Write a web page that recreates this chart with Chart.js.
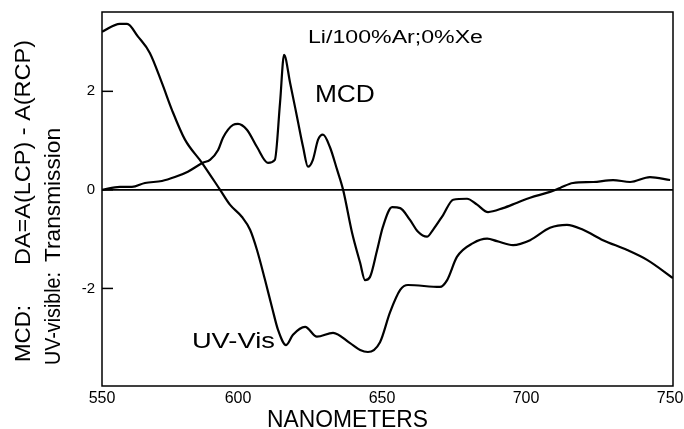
<!DOCTYPE html>
<html>
<head>
<meta charset="utf-8">
<script src="https://cdn.jsdelivr.net/npm/chart.js@4"></script>
<style>
  body { margin: 0; background: #fff; }
</style>
</head>
<body>
<canvas id="myChart" width="684" height="429"></canvas>
<script>
// wavelengths (nm) and values
const nmMcd = [552.8, 559, 563.2, 567.7, 573.6, 578.1, 582.6, 587.8, 590.3, 593.1, 594.8, 598.3, 600, 603.1, 606.6, 610.4, 612.8, 614.6, 616, 618.1, 620.5, 622.6, 624.3, 626, 627.8, 629.5, 631.9, 634.4, 636.5, 639.6, 642.4, 644.1, 645.8, 648.3, 650.3, 653.5, 656.3, 659.7, 662.5, 665.6, 667.7, 671.2, 674.7, 679.5, 683, 686.8, 692, 696.9, 701.4, 708.3, 711.8, 716.3, 723.3, 730.2, 736.1, 743, 750];
const mcd = [0, 0.06, 0.06, 0.14, 0.18, 0.26, 0.37, 0.55, 0.61, 0.81, 1.06, 1.32, 1.34, 1.22, 0.87, 0.55, 0.61, 1.77, 2.74, 2.17, 1.48, 0.87, 0.47, 0.61, 1.02, 1.12, 0.87, 0.41, 0, -0.87, -1.48, -1.83, -1.77, -1.22, -0.75, -0.35, -0.37, -0.61, -0.85, -0.95, -0.81, -0.51, -0.20, -0.18, -0.30, -0.45, -0.37, -0.26, -0.16, -0.04, 0.04, 0.14, 0.16, 0.20, 0.16, 0.26, 0.20];

const nmUv = [552.8, 559, 561.5, 565.3, 569.4, 573.6, 577.1, 581.6, 587.5, 593.8, 597.2, 601.4, 604.2, 606.6, 609.4, 611.8, 613.9, 616.7, 619.1, 623.3, 627.4, 633, 638.9, 642.4, 645.1, 649.3, 652.8, 656.3, 659, 670.1, 672.6, 676, 681.6, 686.5, 689.9, 695.5, 701.4, 708.3, 714.2, 719.8, 726.7, 735.1, 742, 751];
const uv = [3.21, 3.37, 3.37, 3.11, 2.78, 2.17, 1.62, 1.02, 0.55, 0, -0.30, -0.55, -0.81, -1.22, -1.83, -2.38, -2.84, -3.15, -2.94, -2.78, -2.98, -2.90, -3.11, -3.25, -3.29, -3.09, -2.48, -2.03, -1.93, -1.97, -1.83, -1.36, -1.08, -0.99, -1.04, -1.12, -1.02, -0.77, -0.71, -0.81, -1.02, -1.22, -1.42, -1.79];

const xTicks = [550, 600, 650, 700, 750];
const yTicks = [-2, 0, 2];

const X_MIN = 552.8, X_MAX = 751;
const Y_MIN = -3.98, Y_MAX = 3.61;
const FONT = "'Liberation Sans', Arial, sans-serif";

function pts(xs, ys) {
  return xs.map((x, i) => ({ x: x, y: ys[i] }));
}

// draw text squeezed/stretched to a given width (the scan has uneven lettering)
function fitText(ctx, text, x, y, size, width) {
  ctx.font = size + 'px ' + FONT;
  const w = ctx.measureText(text).width;
  ctx.save();
  ctx.translate(x, y);
  ctx.scale(width / w, 1);
  ctx.fillText(text, 0, 0);
  ctx.restore();
}

const framePlugin = {
  id: 'frame',
  afterDatasetsDraw(chart) {
    const ctx = chart.ctx;
    const a = chart.chartArea;
    const xs = chart.scales.x, ys = chart.scales.y;
    ctx.save();
    ctx.strokeStyle = '#000';
    ctx.lineWidth = 1.5;
    ctx.strokeRect(a.left, a.top, a.right - a.left, a.bottom - a.top);
    // inward tick marks on the value axis
    yTicks.forEach(v => {
      const py = ys.getPixelForValue(v);
      ctx.beginPath();
      ctx.moveTo(a.left, py);
      ctx.lineTo(a.left + 11, py);
      ctx.stroke();
    });

    ctx.fillStyle = '#000';
    ctx.textAlign = 'left';
    ctx.textBaseline = 'alphabetic';
    fitText(ctx, 'Li/100%Ar;0%Xe', xs.getPixelForValue(624.3), ys.getPixelForValue(2.98), 18, 175);
    fitText(ctx, 'MCD', xs.getPixelForValue(626.7), ys.getPixelForValue(1.79), 23, 60);
    fitText(ctx, 'UV-Vis', xs.getPixelForValue(584.0), ys.getPixelForValue(-3.21), 22, 83);

    // axis titles
    fitText(ctx, 'NANOMETERS', 267, 427, 23, 161);

    ctx.save();
    ctx.rotate(-Math.PI / 2);
    fitText(ctx, 'MCD:', -362, 30, 22, 57);
    fitText(ctx, 'DA=A(LCP) - A(RCP)', -265, 30, 22, 225);
    fitText(ctx, 'UV-visible:', -365, 60, 22, 93);
    fitText(ctx, 'Transmission', -262, 60, 22, 134);
    ctx.restore();
    ctx.restore();
  }
};

const data = {
  datasets: [{
    label: 'MCD',
    data: pts(nmMcd, mcd),
    borderColor: '#000',
    borderWidth: 2.2,
    pointRadius: 0,
    cubicInterpolationMode: 'monotone'
  }, {
    label: 'UV-Vis',
    data: pts(nmUv, uv),
    borderColor: '#000',
    borderWidth: 2.2,
    pointRadius: 0,
    cubicInterpolationMode: 'monotone'
  }, {
    label: 'zero',
    data: [{ x: X_MIN, y: 0 }, { x: X_MAX, y: 0 }],
    borderColor: '#000',
    borderWidth: 1.8,
    pointRadius: 0
  }]
};

const config = {
  type: 'line',
  data: data,
  options: {
    responsive: false,
    animation: false,
    layout: { padding: { left: 0, top: 12, right: 11, bottom: 0 } },
    plugins: { legend: { display: false }, tooltip: { enabled: false } },
    scales: {
      x: {
        type: 'linear',
        min: X_MIN,
        max: X_MAX,
        afterBuildTicks: s => { s.ticks = xTicks.map(v => ({ value: Math.max(v, X_MIN) })); },
        afterFit: s => { s.height = 43; s.paddingLeft = 0; s.paddingRight = 0; },
        grid: { display: false, drawTicks: false },
        border: { display: false },
        ticks: {
          autoSkip: false,
          maxRotation: 0,
          padding: 3,
          color: '#000',
          font: { size: 16, family: FONT },
          callback: (v, i) => String(xTicks[i])
        }
      },
      y: {
        type: 'linear',
        min: Y_MIN,
        max: Y_MAX,
        afterBuildTicks: s => { s.ticks = yTicks.map(v => ({ value: v })); },
        afterFit: s => { s.width = 102; s.paddingTop = 0; s.paddingBottom = 0; },
        grid: { display: false, drawTicks: false },
        border: { display: false },
        ticks: {
          padding: 7,
          color: '#000',
          font: { size: 15, family: FONT },
          callback: v => String(v)
        }
      }
    }
  },
  plugins: [framePlugin]
};

const myChart = new Chart(document.getElementById('myChart'), config);
</script>
</body>
</html>
